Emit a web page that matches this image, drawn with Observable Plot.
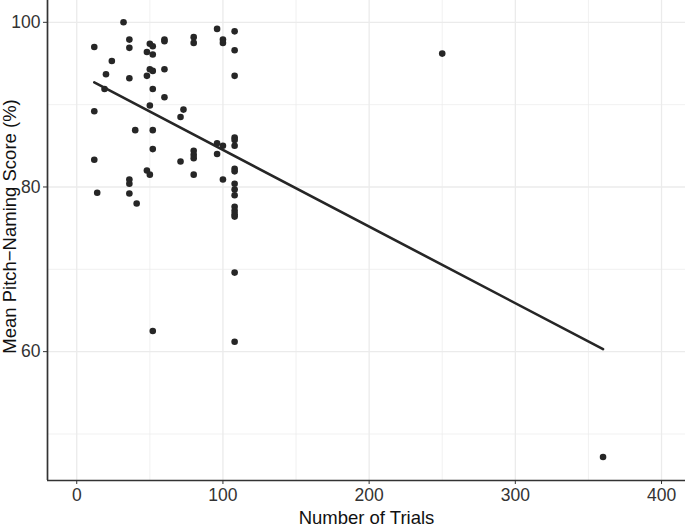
<!DOCTYPE html>
<html>
<head>
<meta charset="utf-8">
<script src="https://cdn.jsdelivr.net/npm/d3@7"></script>
<script src="https://cdn.jsdelivr.net/npm/@observablehq/plot@0.6"></script>
<style>
  html, body { margin: 0; padding: 0; background: #ffffff; }
</style>
</head>
<body>
<div id="chart"></div>
<script>
// Number of trials per study
const trials = [
  12, 12, 12, 14, 19, 20, 24, 32,
  36, 36, 36, 36, 36, 36,
  40, 41,
  48, 48, 48,
  50, 50, 50, 50,
  52, 52, 52, 52, 52, 52, 52,
  60, 60, 60, 60,
  71, 71, 73,
  80, 80, 80, 80, 80, 80,
  96, 96, 96,
  100, 100, 100, 100,
  108, 108, 108, 108, 108, 108, 108, 108, 108, 108, 108, 108, 108, 108, 108, 108, 108,
  250, 360
];
// Mean pitch-naming score (%)
const scores = [
  97.0, 89.2, 83.3, 79.3, 91.9, 93.7, 95.3, 100.0,
  97.9, 96.9, 93.2, 80.9, 80.4, 79.2,
  86.9, 78.0,
  96.4, 93.5, 82.0,
  97.4, 94.3, 89.9, 81.5,
  97.1, 96.1, 94.1, 91.9, 86.9, 84.6, 62.5,
  97.9, 97.7, 94.3, 90.9,
  88.5, 83.1, 89.4,
  98.2, 97.5, 84.4, 83.9, 83.5, 81.5,
  99.2, 85.3, 84.0,
  97.9, 97.5, 85.0, 80.9,
  98.9, 96.6, 93.5, 86.0, 85.7, 85.0, 82.2, 81.9, 80.4, 79.7, 79.0, 77.6, 77.1, 76.7, 76.4, 69.6, 61.2,
  96.2, 47.2
];
// Fitted trend line (ends at the data extremes)
const fitTrials = [12, 360];
const fitScores = [92.7, 60.3];

const xTicks = [0, 100, 200, 300, 400];
const xMinor = [50, 150, 250, 350];
const yTicks = [60, 80, 100];
const yMinor = [50, 70, 90];
const xDomain = [-20, 416.4];
const yDomain = [44.35, 102.65];
const xTitle = "Number of Trials";
const yTitle = "Mean Pitch\u2212Naming Score (%)";

const data = trials.map((t, i) => ({trials: t, score: scores[i]}));
const fit = fitTrials.map((t, i) => ({trials: t, score: fitScores[i]}));

const gridColor = "#ebebeb";
const chart = Plot.plot({
  width: 685,
  height: 526,
  marginLeft: 47,
  marginRight: 0,
  marginTop: 0,
  marginBottom: 46,
  style: {fontFamily: "'Liberation Sans', Arial, sans-serif", fontSize: "17px", background: "#ffffff"},
  x: {domain: xDomain},
  y: {domain: yDomain},
  marks: [
    Plot.gridX({ticks: xMinor, stroke: gridColor, strokeOpacity: 1, strokeWidth: 0.7}),
    Plot.gridY({ticks: yMinor, stroke: gridColor, strokeOpacity: 1, strokeWidth: 0.7}),
    Plot.gridX({ticks: xTicks, stroke: gridColor, strokeOpacity: 1, strokeWidth: 1.3}),
    Plot.gridY({ticks: yTicks, stroke: gridColor, strokeOpacity: 1, strokeWidth: 1.3}),
    Plot.ruleX([xDomain[0]], {stroke: "#333333", strokeWidth: 1.7}),
    Plot.ruleY([yDomain[0]], {stroke: "#333333", strokeWidth: 1.7}),
    Plot.axisX({
      ticks: xTicks, tickSize: 4, tickPadding: 4, fontSize: 17.5, color: "#333333", label: null
    }),
    Plot.axisY({
      ticks: yTicks, tickSize: 4, tickPadding: 3, fontSize: 17.5, color: "#333333", label: null
    }),
    Plot.text([xTitle], {
      text: d => d, frameAnchor: "bottom", lineAnchor: "bottom", dy: 43,
      fontSize: 18.5, fill: "#111111"
    }),
    Plot.text([yTitle], {
      text: d => d, frameAnchor: "left", lineAnchor: "top", textAnchor: "middle",
      rotate: -90, dx: -45, dy: -14,
      fontSize: 18.5, fill: "#111111"
    }),
    Plot.dot(data, {x: "trials", y: "score", r: 3.3, fill: "#262626", stroke: null}),
    Plot.line(fit, {x: "trials", y: "score", stroke: "#262626", strokeWidth: 2.6})
  ]
});
document.getElementById("chart").appendChild(chart);
</script>
</body>
</html>
